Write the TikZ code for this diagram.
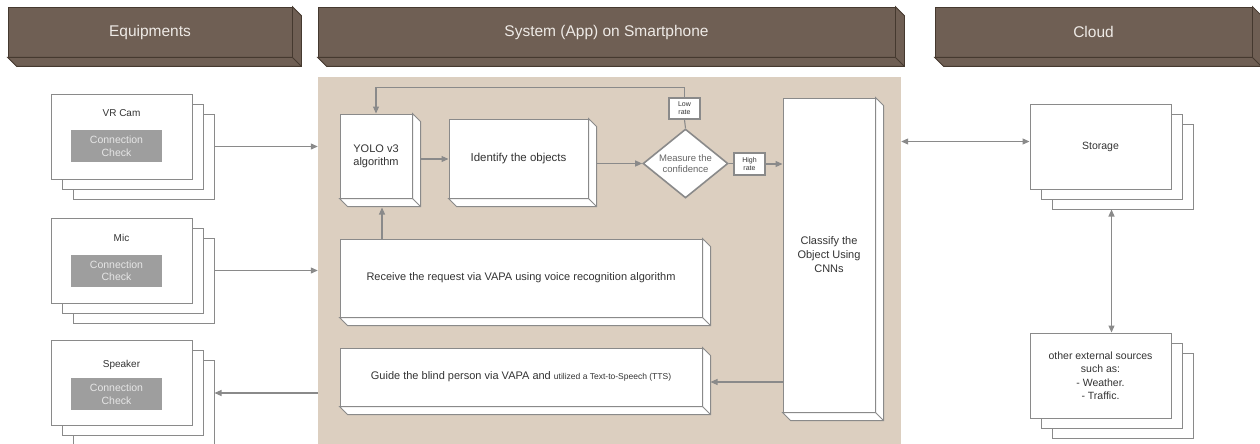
\documentclass[tikz,border=0pt]{standalone}
\usepackage{fontspec}
\setmainfont{Liberation Sans}
\usetikzlibrary{arrows.meta,shapes.geometric,shadows,calc}

\definecolor{barbrown}{HTML}{6F5F54}
\definecolor{baredge}{HTML}{45392F}
\definecolor{bartext}{HTML}{EEEAE6}
\definecolor{panelbeige}{HTML}{DCCFC0}
\definecolor{linegrey}{HTML}{8A8A8A}
\definecolor{checkgrey}{HTML}{9E9E9E}
\definecolor{checktext}{HTML}{E6E6E6}
\definecolor{textgrey}{HTML}{333333}

% depth faces of a box: #1 depth, #2 node, #3 style
\newcommand{\cubedepth}[3][8]{%
  \filldraw[#3] (#2.north east) -- ++(#1,#1) |- ($(#2.south west)+(#1,#1)$) -- (#2.south west) -- (#2.south east) -- cycle;
  \draw[#3] (#2.south east) -- ++(#1,#1);
}

\begin{document}
\begin{tikzpicture}[
            x=1pt, y=-1pt,
            bar/.style={rectangle, draw=baredge, fill=barbrown, text=bartext, line width=0.8pt, minimum height=50pt, font=\fontsize{15.5}{18}\selectfont},
            bardepth/.style={draw=baredge, fill=barbrown, line width=0.8pt},
            panel/.style={rectangle, fill=panelbeige, minimum width=583pt, minimum height=370pt},
            stack/.style={rectangle, draw=linegrey, fill=white, line width=1pt, minimum width=141pt, minimum height=85pt,
                double copy shadow={shadow xshift=11pt, shadow yshift=-10pt, draw=linegrey, fill=white}},
            title/.style={text=textgrey, font=\fontsize{10}{12}\selectfont},
            check/.style={rectangle, fill=checkgrey, text=checktext, minimum width=91pt, minimum height=32pt, align=center, inner sep=1pt, font=\fontsize{10.5}{12.5}\selectfont},
            cube/.style={rectangle, draw=linegrey, fill=white, line width=1pt, align=center, text=textgrey, font=\fontsize{11}{13}\selectfont},
            cubedepthstyle/.style={draw=linegrey, fill=white, line width=1pt},
            ratebox/.style={rectangle, draw=linegrey, fill=white, line width=1.6pt, minimum width=31pt, minimum height=21pt, inner sep=0pt, align=center, text=textgrey, font=\fontsize{7}{8}\selectfont},
            decision/.style={diamond, draw=linegrey, fill=white, line width=1.6pt, minimum width=85pt, minimum height=69pt, inner sep=0pt, aspect=1.23, align=center, text=textgrey!75, font=\fontsize{9.5}{11.5}\selectfont},
            arrow/.style={-{Triangle[length=7pt,width=6pt]}, draw=linegrey, line width=1.1pt},
            both/.style={{Triangle[length=7pt,width=6pt]}-{Triangle[length=7pt,width=6pt]}, draw=linegrey, line width=1.1pt},
            link/.style={draw=linegrey, line width=1.1pt}
        ]
            \useasboundingbox (0,0) rectangle (1260,444);

            % Header bars
            \node[bar, minimum width=284pt] (equip) at (150,32) {Equipments};
            \node[bar, minimum width=577pt] (system) at (606.5,32) {System (App) on Smartphone};
            \node[bar, minimum width=317pt] (cloud) at (1093.5,32) {Cloud};
            \cubedepth[9]{equip}{bardepth}
            \cubedepth[9]{system}{bardepth}
            \cubedepth[9]{cloud}{bardepth}

            % App panel
            \node[panel] (panel) at (609.5,262) {};

            % Equipments
            \node[stack] (cam) at (121.5,136.5) {};
            \node[title] (camtitle) at (121.5,113) {VR Cam};
            \node[check] (camcheck) at (116.5,146) {Connection\\Check};
            \node[stack] (mic) at (121.5,260.5) {};
            \node[title] (mictitle) at (121.5,238) {Mic};
            \node[check] (miccheck) at (116.5,270.5) {Connection\\Check};
            \node[stack] (speaker) at (121.5,383) {};
            \node[title] (speakertitle) at (121.5,365) {Speaker};
            \node[check] (speakercheck) at (116.5,394) {Connection\\Check};

            % App steps
            \node[cube, minimum width=72pt, minimum height=84pt] (yolo) at (376,156) {YOLO v3\\algorithm};
            \node[cube, minimum width=139pt, minimum height=79pt, font=\fontsize{11.5}{13}\selectfont] (identify) at (518.5,158.5) {Identify the objects};
            \node[cube, minimum width=362pt, minimum height=78pt] (receive) at (521,278) {Receive the request via VAPA using voice recognition algorithm};
            \node[cube, minimum width=362pt, minimum height=58pt] (guide) at (521,377) {Guide the blind person via VAPA and {\fontsize{8.5}{10}\selectfont utilized a Text-to-Speech (TTS)}};
            \node[cube, minimum width=92pt, minimum height=314pt, font=\fontsize{11}{14}\selectfont] (classify) at (829,255) {Classify the\\Object Using\\CNNs};
            \cubedepth{yolo}{cubedepthstyle}
            \cubedepth{identify}{cubedepthstyle}
            \cubedepth{receive}{cubedepthstyle}
            \cubedepth{guide}{cubedepthstyle}
            \cubedepth{classify}{cubedepthstyle}
            \node[decision] (confidence) at (685.5,163.5) {Measure the\\confidence};
            \node[ratebox] (low) at (684.5,108.5) {Low\\rate};
            \node[ratebox, minimum height=22pt] (high) at (749.5,164) {High\\rate};

            % Cloud
            \node[stack, font=\fontsize{10.5}{13.5}\selectfont, text=textgrey] (storage) at (1100.5,146.5) {Storage};
            \node[stack, font=\fontsize{10.5}{13.5}\selectfont, text=textgrey, align=center] (sources) at (1100.5,375.5) {other external sources\\such as:\\- Weather.\\- Traffic.};

            % Arrows
            \coordinate (camout) at ([shift={(22,10)}]cam.east);
            \coordinate (micout) at ([shift={(22,10)}]mic.east);
            \coordinate (speakerin) at ([shift={(22,10)}]speaker.east);
            \draw[arrow] (camout) -- (camout -| panel.west);
            \draw[arrow] (micout) -- (micout -| panel.west);
            \draw[arrow] (speakerin -| panel.west) -- (speakerin);

            \coordinate (yolobase) at ([shift={(6,9)}]yolo.south);
            \draw[arrow] (receive.north -| yolobase) -- (yolobase);
            \coordinate (yoloout) at ([shift={(8,3)}]yolo.east);
            \draw[arrow] (yoloout) -- (yoloout -| identify.west);
            \coordinate (identifyout) at ([xshift=8pt]identify.east |- confidence.west);
            \draw[arrow] (identifyout) -- (confidence.west);
            \draw[link] (confidence.north) -- (low.south);
            \draw[arrow] (low.north) -- ++(0,-10) -| (yolo.north);
            \draw[link] (confidence.east) -- (confidence.east -| high.west);
            \draw[arrow] (high.east) -- (high.east -| classify.west);
            \coordinate (guidein) at ([shift={(8,5)}]guide.east);
            \draw[arrow] (guidein -| classify.west) -- (guidein);

            \coordinate (storagein) at ([yshift=5pt]storage.west);
            \draw[both] (storagein -| panel.east) -- (storagein);
            \coordinate (storagebase) at ([shift={(11,20)}]storage.south);
            \draw[both] (storagebase) -- (storagebase |- sources.north);
        \end{tikzpicture}
\end{document}
